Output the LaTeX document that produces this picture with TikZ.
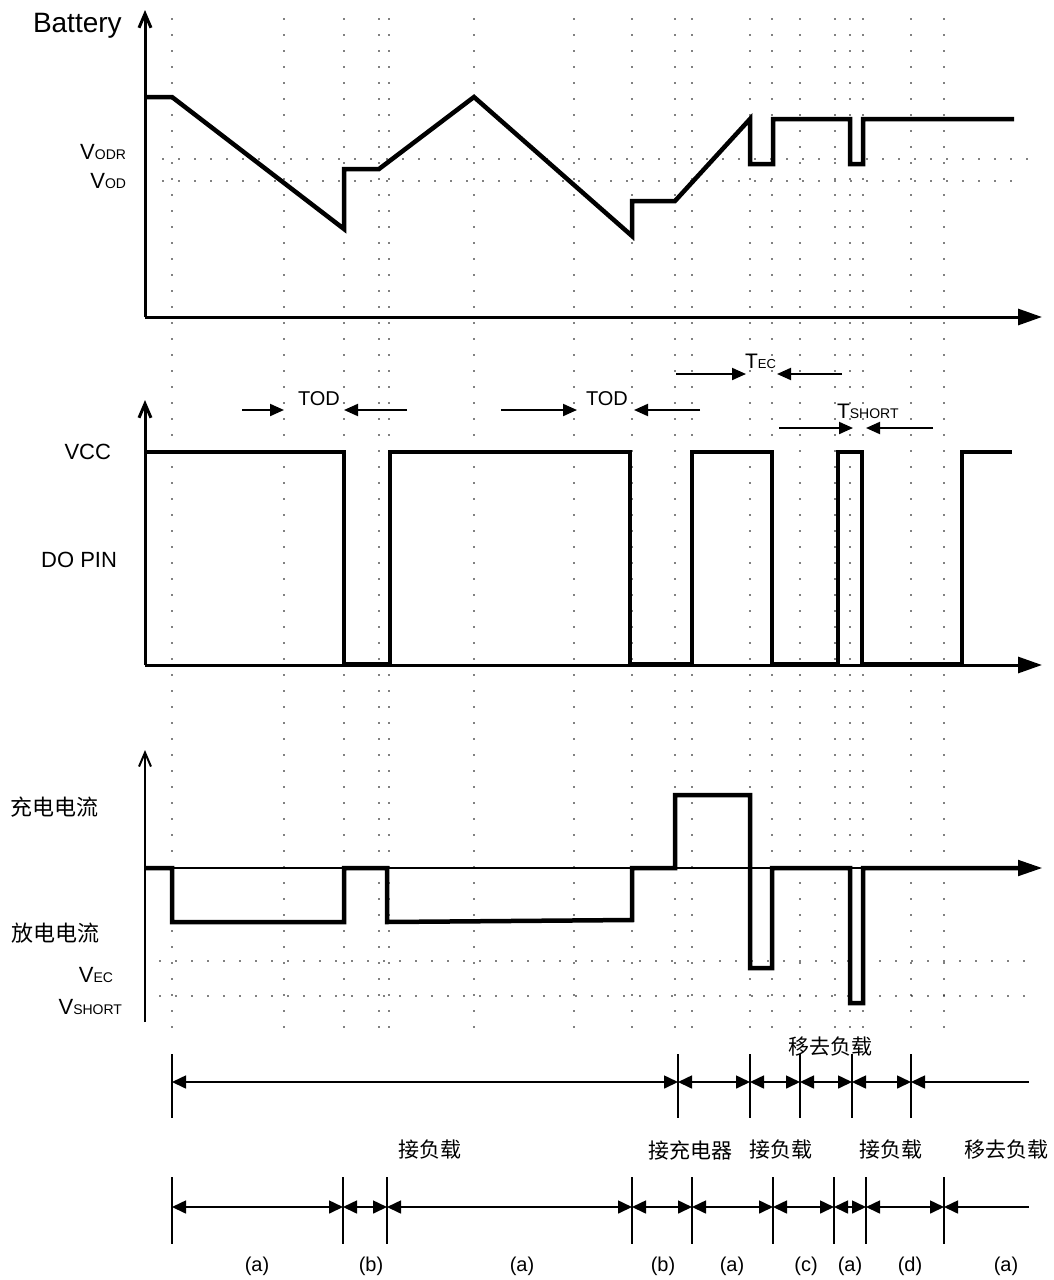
\documentclass[tikz,border=0pt]{standalone}
\usepackage{fontspec}
\setmainfont{Liberation Sans}
\newfontfamily\cjkfont{Noto Sans CJK SC}
\usetikzlibrary{arrows.meta}
\newcommand\myfs[1]{\fontsize{#1}{#1}\selectfont}
\begin{document}
\begin{tikzpicture}[x=1pt,y=-1pt,
  every node/.style={inner sep=0pt,outer sep=0pt},
  wave/.style={line width=4.5pt,line join=miter},
  axisthick/.style={line width=3pt},
  axisthin/.style={line width=2pt},
  griddots/.style={line width=1.8pt,line cap=round,dash pattern=on 0pt off 16pt},
  yarrow/.style={-{Straight Barb[length=14pt,width=12pt]}},
  xarrow/.style={-{Triangle[length=24pt,width=16pt]}},
  dimarrow/.style={line width=2pt,-{Triangle[length=14pt,width=12pt]}},
  tickline/.style={line width=1.6pt},
  spanarrow/.style={line width=1.6pt,{Triangle[length=14pt,width=13pt]}-{Triangle[length=14pt,width=13pt]}},
  lspanarrow/.style={line width=1.6pt,{Triangle[length=14pt,width=13pt]}-},
  lbl/.style={font=\myfs{22}},
  cjklbl/.style={font=\cjkfont\myfs{22}},
  tllbl/.style={font=\cjkfont\myfs{21}},
  letterlbl/.style={font=\myfs{20}},
]
\useasboundingbox (0,0) rectangle (1054,1280);

% ---------- dotted grid ----------
\foreach \x in {172,284,344,379,389,474,574,632,675,692,750,772,800,835,850,863,911,944}
  \draw[griddots] (\x,19) -- (\x,1028);
\draw[griddots] (163,159) -- (1036,159);
\draw[griddots] (163,181) -- (1020,181);
\draw[griddots] (160,961) -- (1040,961);
\draw[griddots] (160,996) -- (1040,996);

% ---------- Battery panel ----------
\coordinate (o1) at (145,317);
\coordinate (y1) at (145,10);
\coordinate (x1) at (1042,317);
\draw[axisthick,yarrow] (o1) -- (y1);
\draw[axisthick,xarrow] (o1) -- (x1);
\draw[wave] (145,97) -- (172,97) -- (344,229) -- (344,169) -- (379,169) -- (474,97)
  -- (632,236) -- (632,201) -- (675,201) -- (750,119) -- (750,164) -- (773,164)
  -- (773,119) -- (850,119) -- (850,164) -- (863,164) -- (863,119) -- (1014,119);
\node[anchor=base west,font=\myfs{28}] (batt) at (33,32) {Battery};
\node[anchor=base east] (vodr) at (126,159) {\myfs{22}V\myfs{14}ODR};
\node[anchor=base east] (vod) at (126,188) {\myfs{22}V\myfs{14}OD};

% ---------- DO PIN panel ----------
\coordinate (o2) at (145,665);
\coordinate (y2) at (145,400);
\coordinate (x2) at (1042,665);
\draw[axisthick,yarrow] (o2) -- (y2);
\draw[axisthick,xarrow] (o2) -- (x2);
\draw[wave] (145,452) -- (344,452) -- (344,664) -- (390,664) -- (390,452) -- (630,452)
  -- (630,664) -- (692,664) -- (692,452) -- (772,452) -- (772,664) -- (838,664)
  -- (838,452) -- (862,452) -- (862,664) -- (962,664) -- (962,452) -- (1012,452);
\node[lbl,anchor=base east] (vcc) at (111,459) {VCC};
\node[lbl,anchor=base east] (dopin) at (117,567) {DO PIN};

% timing labels
\node[anchor=base west,font=\myfs{20}] (tod1) at (298,405) {TOD};
\coordinate (tod1a) at (242,410); \coordinate (tod1b) at (284,410);
\coordinate (tod1c) at (407,410); \coordinate (tod1d) at (344,410);
\draw[dimarrow] (tod1a) -- (tod1b);
\draw[dimarrow] (tod1c) -- (tod1d);
\node[anchor=base west,font=\myfs{20}] (tod2) at (586,405) {TOD};
\coordinate (tod2a) at (501,410); \coordinate (tod2b) at (577,410);
\coordinate (tod2c) at (700,410); \coordinate (tod2d) at (634,410);
\draw[dimarrow] (tod2a) -- (tod2b);
\draw[dimarrow] (tod2c) -- (tod2d);
\node[anchor=base west] (tec) at (745,368) {\myfs{21}T\myfs{13}EC};
\coordinate (teca) at (676,374); \coordinate (tecb) at (746,374);
\coordinate (tecc) at (842,374); \coordinate (tecd) at (777,374);
\draw[dimarrow] (teca) -- (tecb);
\draw[dimarrow] (tecc) -- (tecd);
\node[anchor=base west] (tshort) at (837,418) {\myfs{21}T\myfs{14}SHORT};
\coordinate (tsa) at (779,428); \coordinate (tsb) at (853,428);
\coordinate (tsc) at (933,428); \coordinate (tsd) at (866,428);
\draw[dimarrow] (tsa) -- (tsb);
\draw[dimarrow] (tsc) -- (tsd);

% ---------- Current panel ----------
\coordinate (o3) at (145,1022);
\coordinate (y3) at (145,750);
\coordinate (a3) at (145,868);
\coordinate (x3) at (1042,868);
\draw[axisthin,yarrow] (o3) -- (y3);
\draw[axisthin,xarrow] (a3) -- (x3);
\draw[wave] (145,868) -- (172,868) -- (172,922) -- (344,922) -- (344,868) -- (387,868)
  -- (387,922) -- (632,920) -- (632,868) -- (675,868) -- (675,795) -- (750,795)
  -- (750,968) -- (772,968) -- (772,868) -- (850,868) -- (850,1003) -- (863,1003)
  -- (863,868) -- (1022,868);
\node[cjklbl,anchor=west] (chg) at (10,807) {充电电流};
\node[cjklbl,anchor=west] (dis) at (12,933) {放电电流};
\node[anchor=base east] (vec) at (113,982) {\myfs{22}V\myfs{14}EC};
\node[anchor=base east] (vshort) at (122,1014) {\myfs{22}V\myfs{14}SHORT};

% ---------- timeline row 1 ----------
\foreach \n/\x in {p1/172,p2/678,p3/750,p4/800,p5/852,p6/911} {
  \draw[tickline] (\x,1054) -- (\x,1118);
  \coordinate (\n) at (\x,1082);
}
\coordinate (p7) at (1029,1082);
\draw[spanarrow] (p1) -- (p2);
\draw[spanarrow] (p2) -- (p3);
\draw[spanarrow] (p3) -- (p4);
\draw[spanarrow] (p4) -- (p5);
\draw[spanarrow] (p5) -- (p6);
\draw[lspanarrow] (p6) -- (p7);
\node[tllbl] (rm1) at (830,1047) {移去负载};

% ---------- timeline labels ----------
\node[tllbl] (l1) at (430,1150) {接负载};
\node[tllbl] (l2) at (690,1150) {接充电器};
\node[tllbl] (l3) at (781,1150) {接负载};
\node[tllbl] (l4) at (891,1150) {接负载};
\node[tllbl] (l5) at (1006,1150) {移去负载};

% ---------- timeline row 3 ----------
\foreach \n/\x in {q1/172,q2/343,q3/387,q4/632,q5/692,q6/773,q7/834,q8/866,q9/944} {
  \draw[tickline] (\x,1177) -- (\x,1244);
  \coordinate (\n) at (\x,1207);
}
\coordinate (q10) at (1029,1207);
\draw[spanarrow] (q1) -- (q2);
\draw[spanarrow] (q2) -- (q3);
\draw[spanarrow] (q3) -- (q4);
\draw[spanarrow] (q4) -- (q5);
\draw[spanarrow] (q5) -- (q6);
\draw[spanarrow] (q6) -- (q7);
\draw[spanarrow] (q7) -- (q8);
\draw[spanarrow] (q8) -- (q9);
\draw[lspanarrow] (q9) -- (q10);

\foreach \n/\x/\t in {s1/257/a,s2/371/b,s3/522/a,s4/663/b,s5/732/a,s6/806/c,s7/850/a,s8/910/d,s9/1006/a}
  \node[letterlbl] (\n) at (\x,1266) {(\t)};
\end{tikzpicture}
\end{document}
